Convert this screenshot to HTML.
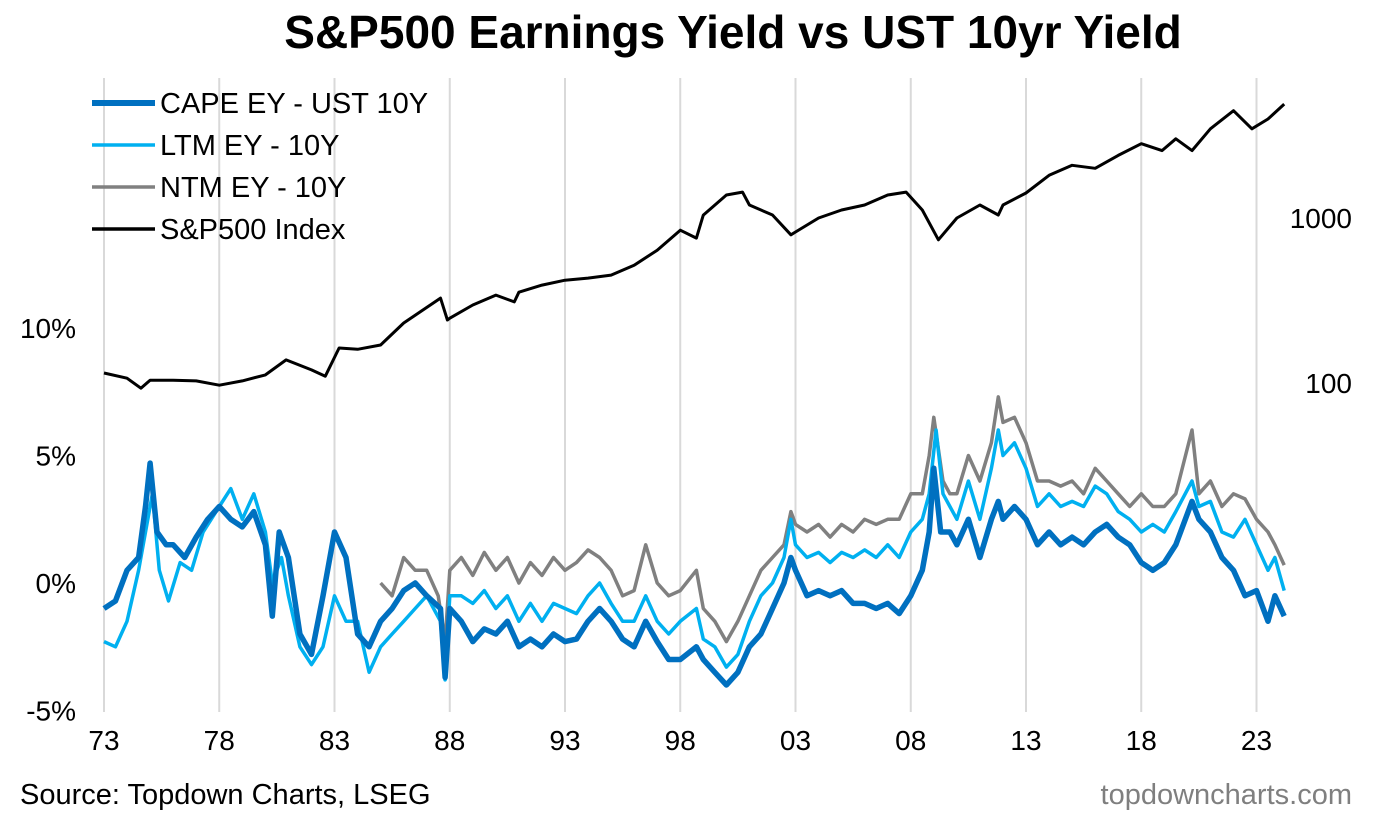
<!DOCTYPE html>
<html><head><meta charset="utf-8">
<style>
html,body{margin:0;padding:0;background:#fff;}
body{width:1375px;height:817px;overflow:hidden;font-family:"Liberation Sans",Arial,sans-serif;}
svg text{font-family:"Liberation Sans",Arial,sans-serif;}
</style></head>
<body>
<svg id="chart" width="1375" height="817" viewBox="0 0 1375 817" xmlns="http://www.w3.org/2000/svg">
<text x="733" y="48" text-anchor="middle" font-size="46" font-weight="bold" fill="#000">S&amp;P500 Earnings Yield vs UST 10yr Yield</text>
<g id="grid"></g>
<g id="series"></g>
<g id="axes"></g>
<g>
<line x1="92" y1="103" x2="155" y2="103" stroke="#0070C0" stroke-width="6"/>
<text x="160" y="113" font-size="29">CAPE EY - UST 10Y</text>
<line x1="92" y1="145" x2="155" y2="145" stroke="#00B0F0" stroke-width="3.5"/>
<text x="160" y="155" font-size="29">LTM EY - 10Y</text>
<line x1="92" y1="187" x2="155" y2="187" stroke="#808080" stroke-width="3.5"/>
<text x="160" y="197" font-size="29">NTM EY - 10Y</text>
<line x1="92" y1="229" x2="155" y2="229" stroke="#000" stroke-width="3.5"/>
<text x="160" y="239" font-size="29">S&amp;P500 Index</text>
</g>
<text x="20" y="804" font-size="29" fill="#000">Source: Topdown Charts, LSEG</text>
<text x="1352" y="804" font-size="29" fill="#7f7f7f" text-anchor="end">topdowncharts.com</text>
</svg>
<script>
const xTickLabels=["73","78","83","88","93","98","03","08","13","18","23"];
const xTickYears=[1973,1978,1983,1988,1993,1998,2003,2008,2013,2018,2023];
const yTickValues=[10,5,0,-5];
const yTickLabels=["10%","5%","0%","-5%"];
const rTickValues=[1000,100];
const rTickLabels=["1000","100"];

const spxYears=[1973,1974,1974.6,1975,1976,1977,1978,1979,1980,1980.9,1982,1982.6,1983.2,1984,1985,1986,1987.6,1987.9,1988,1989,1990,1990.8,1991,1992,1993,1994,1995,1996,1997,1998,1998.7,1999,2000,2000.7,2001,2002,2002.8,2003,2004,2005,2006,2007,2007.8,2008.5,2009.2,2010,2011,2011.8,2012,2013,2014,2015,2016,2017,2018,2018.9,2019.5,2020.2,2021,2022,2022.8,2023.5,2024.2];
const spxValues=[115,107,93,104,104,103,97,103,112,138,120,110,163,160,170,231,327,241,247,297,341,310,355,392,420,432,451,517,638,843,755,1042,1378,1435,1199,1043,791,822,1000,1118,1199,1378,1435,1118,738,1000,1199,1043,1199,1418,1815,2086,2000,2395,2821,2560,3020,2560,3470,4470,3470,3980,4900];

const capeYears=[1973,1973.5,1974,1974.5,1974.8,1975,1975.3,1975.7,1976,1976.5,1977,1977.5,1978,1978.5,1979,1979.5,1980,1980.3,1980.6,1981,1981.5,1982,1982.5,1983,1983.5,1984,1984.5,1985,1985.5,1986,1986.5,1987,1987.6,1987.8,1988,1988.5,1989,1989.5,1990,1990.5,1991,1991.5,1992,1992.5,1993,1993.5,1994,1994.5,1995,1995.5,1996,1996.5,1997,1997.5,1998,1998.7,1999,1999.5,2000,2000.5,2001,2001.5,2002,2002.5,2002.8,2003,2003.5,2004,2004.5,2005,2005.5,2006,2006.5,2007,2007.5,2008,2008.5,2008.8,2009,2009.3,2009.7,2010,2010.5,2011,2011.5,2011.8,2012,2012.5,2013,2013.5,2014,2014.5,2015,2015.5,2016,2016.5,2017,2017.5,2018,2018.5,2019,2019.5,2020.2,2020.5,2021,2021.5,2022,2022.5,2023,2023.5,2023.8,2024.2];
const capeValues=[-1.0,-0.7,0.5,1.0,3.0,4.7,2.0,1.5,1.5,1.0,1.8,2.5,3.0,2.5,2.2,2.8,1.5,-1.3,2.0,1.0,-2.0,-2.8,-0.5,2.0,1.0,-2.0,-2.5,-1.5,-1.0,-0.3,0.0,-0.5,-1.0,-3.7,-1.0,-1.5,-2.3,-1.8,-2.0,-1.5,-2.5,-2.2,-2.5,-2.0,-2.3,-2.2,-1.5,-1.0,-1.5,-2.2,-2.5,-1.5,-2.3,-3.0,-3.0,-2.5,-3.0,-3.5,-4.0,-3.5,-2.5,-2.0,-1.0,0.0,1.0,0.5,-0.5,-0.3,-0.5,-0.3,-0.8,-0.8,-1.0,-0.8,-1.2,-0.5,0.5,2.0,4.5,2.0,2.0,1.5,2.5,1.0,2.5,3.2,2.5,3.0,2.5,1.5,2.0,1.5,1.8,1.5,2.0,2.3,1.8,1.5,0.8,0.5,0.8,1.5,3.2,2.5,2.0,1.0,0.5,-0.5,-0.3,-1.5,-0.5,-1.3];

const ltmYears=[1973,1973.5,1974,1974.5,1974.9,1975.1,1975.4,1975.8,1976.3,1976.8,1977.3,1978,1978.5,1979,1979.5,1980,1980.3,1980.7,1981,1981.5,1982,1982.5,1983,1983.5,1984,1984.5,1985,1985.5,1986,1986.5,1987,1987.6,1987.8,1988,1988.5,1989,1989.5,1990,1990.5,1991,1991.5,1992,1992.5,1993,1993.5,1994,1994.5,1995,1995.5,1996,1996.5,1997,1997.5,1998,1998.7,1999,1999.5,2000,2000.5,2001,2001.5,2002,2002.5,2002.8,2003,2003.5,2004,2004.5,2005,2005.5,2006,2006.5,2007,2007.5,2008,2008.5,2008.8,2009.1,2009.4,2009.7,2010,2010.5,2011,2011.5,2011.8,2012,2012.5,2013,2013.5,2014,2014.5,2015,2015.5,2016,2016.5,2017,2017.5,2018,2018.5,2019,2019.5,2020.2,2020.5,2021,2021.5,2022,2022.5,2023,2023.5,2023.8,2024.2];
const ltmValues=[-2.3,-2.5,-1.5,0.5,2.5,3.5,0.5,-0.7,0.8,0.5,2.0,3.0,3.7,2.5,3.5,2.0,0.0,1.0,-0.5,-2.5,-3.2,-2.5,-0.5,-1.5,-1.5,-3.5,-2.5,-2.0,-1.5,-1.0,-0.5,-1.5,-3.8,-0.5,-0.5,-0.8,-0.3,-1.0,-0.5,-1.5,-0.8,-1.5,-0.8,-1.0,-1.2,-0.5,0.0,-0.8,-1.5,-1.5,-0.5,-1.5,-2.0,-1.5,-1.0,-2.2,-2.5,-3.3,-2.8,-1.5,-0.5,0.0,1.0,2.5,1.5,1.0,1.2,0.8,1.2,1.0,1.3,1.0,1.5,1.0,2.0,2.5,3.5,6.0,3.5,3.0,2.5,4.0,2.5,4.5,6.0,5.0,5.5,4.5,3.0,3.5,3.0,3.2,3.0,3.8,3.5,2.8,2.5,2.0,2.3,2.0,2.8,4.0,3.0,3.2,2.0,1.8,2.5,1.5,0.5,1.0,-0.3];

const ntmYears=[1985,1985.5,1986,1986.5,1987,1987.5,1987.8,1988,1988.5,1989,1989.5,1990,1990.5,1991,1991.5,1992,1992.5,1993,1993.5,1994,1994.5,1995,1995.5,1996,1996.5,1997,1997.5,1998,1998.7,1999,1999.5,2000,2000.5,2001,2001.5,2002,2002.5,2002.8,2003,2003.5,2004,2004.5,2005,2005.5,2006,2006.5,2007,2007.5,2008,2008.5,2008.8,2009,2009.4,2009.7,2010,2010.5,2011,2011.5,2011.8,2012,2012.5,2013,2013.5,2014,2014.5,2015,2015.5,2016,2016.5,2017,2017.5,2018,2018.5,2019,2019.5,2020.2,2020.5,2021,2021.5,2022,2022.5,2023,2023.5,2023.8,2024.2];
const ntmValues=[0.0,-0.5,1.0,0.5,0.5,-0.5,-2.3,0.5,1.0,0.3,1.2,0.5,1.0,0.0,0.8,0.3,1.0,0.5,0.8,1.3,1.0,0.5,-0.5,-0.3,1.5,0.0,-0.5,-0.3,0.5,-1.0,-1.5,-2.3,-1.5,-0.5,0.5,1.0,1.5,2.8,2.3,2.0,2.3,1.8,2.3,2.0,2.5,2.3,2.5,2.5,3.5,3.5,5.0,6.5,4.0,3.5,3.5,5.0,4.0,5.5,7.3,6.3,6.5,5.5,4.0,4.0,3.8,4.0,3.5,4.5,4.0,3.5,3.0,3.5,3.0,3.0,3.5,6.0,3.5,4.0,3.0,3.5,3.3,2.5,2.0,1.5,0.7];

const NS="http://www.w3.org/2000/svg";
function xScale(yr){return 104+(yr-1973)*23.05;}
function yLeft(v){return 583-v*25.5;}
function yRight(v){return 383-165*Math.log10(v/100);}
function mk(tag,attrs,parent){const e=document.createElementNS(NS,tag);for(const k in attrs)e.setAttribute(k,attrs[k]);parent.appendChild(e);return e;}

const grid=document.getElementById('grid');
const axes=document.getElementById('axes');
const series=document.getElementById('series');

xTickYears.forEach((yr,i)=>{
  const l=mk('line',{x1:xScale(yr),x2:xScale(yr),y1:78,y2:712,stroke:'#d9d9d9','stroke-width':2},grid);
  
  
  const t=mk('text',{x:xScale(yr),y:750,'font-size':28,'text-anchor':'middle'},axes);
  t.textContent=xTickLabels[i];
  
  
});
yTickValues.forEach((v,i)=>{
  const t=mk('text',{x:76,y:yLeft(v)+10,'font-size':28,'text-anchor':'end'},axes);
  t.textContent=yTickLabels[i];
  
  
});
rTickValues.forEach((v,i)=>{
  const t=mk('text',{x:1352,y:yRight(v)+10,'font-size':28,'text-anchor':'end'},axes);
  t.textContent=rTickLabels[i];
  
  
});

function drawLine(xs,vs,yf,color,w,name){
  const d=xs.map((x,i)=>(i?'L':'M')+xScale(x).toFixed(1)+' '+yf(vs[i]).toFixed(1)).join(' ');
  const p=mk('path',{d:d,fill:'none',stroke:color,'stroke-width':w,'stroke-linejoin':'round'},series);
  
  
}
drawLine(ntmYears,ntmValues,yLeft,'#808080',3.5,'ntm-ey-line');
drawLine(ltmYears,ltmValues,yLeft,'#00B0F0',3.5,'ltm-ey-line');
drawLine(capeYears,capeValues,yLeft,'#0070C0',5.5,'cape-ey-line');
drawLine(spxYears,spxValues,yRight,'#000000',3,'sp500-index-line');
</script>
</body></html>
